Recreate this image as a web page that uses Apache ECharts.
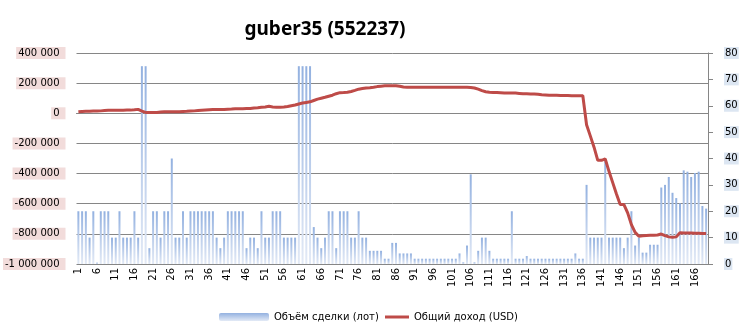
<!DOCTYPE html>
<html>
<head>
<meta charset="utf-8">
<script src="https://cdn.jsdelivr.net/npm/echarts@6/dist/echarts.min.js"></script>
<style>html,body{margin:0;padding:0;background:#fff}#c{width:746px;height:329px}</style>
</head>
<body>
<div id="c"></div>
<script>
const titleText = 'guber35 (552237)';
const seriesBarName = 'Объём сделки (лот)';
const seriesLineName = 'Общий доход (USD)';
const categories = Array.from({length: 169}, (_, i) => String(i + 1));

const volume = [
  20,20,20,10,20,0.5,20,20,20,10,
  10,20,10,10,10,20,10,75,75,6,
  20,20,10,20,20,40,10,10,20,10,
  20,20,20,20,20,20,20,10,6,10,
  20,20,20,20,20,6,10,10,6,20,
  10,10,20,20,20,10,10,10,10,75,
  75,75,75,14,10,6,10,20,20,6,
  20,20,20,10,10,20,10,10,5,5,
  5,5,2,2,8,8,4,4,4,4,
  2,2,2,2,2,2,2,2,2,2,
  2,2,4,0.6,7,34,0.6,5,10,10,
  5,2,2,2,2,2,20,2,2,2,
  3,2,2,2,2,2,2,2,2,2,
  2,2,2,4,2,2,30,10,10,10,
  10,39,10,10,10,10,6,10,20,7,
  10,4.3,4.3,7.3,7.3,7.3,29,30,33,27,
  25,23,35.5,35,33,34.5,35,22,21
];

const income = [
  10000,12000,13000,14000,15000,15000,16000,18000,20000,20000,
  20000,20000,20000,21000,21000,23000,26000,14000,6000,5000,
  5000,6000,8000,10000,10000,10000,10000,11000,12000,13000,
  15000,16000,18000,20000,22000,24000,25000,25000,25000,25000,
  27000,28000,30000,30000,30000,31000,32000,35000,37000,40000,
  42000,46000,42000,40000,40000,42000,45000,50000,55000,62000,
  68000,72000,76000,85000,94000,100000,106000,113000,120000,130000,
  137000,138000,140000,145000,152000,160000,164000,168000,170000,173000,
  177000,180000,182000,183000,183000,183000,180000,175000,172000,172000,
  172000,172000,172000,172000,172000,172000,172000,172000,172000,172000,
  172000,172000,172000,172000,172000,171000,168000,160000,150000,143000,
  139000,138000,138000,136000,134000,134000,134000,134000,132000,130000,
  129000,128000,128000,126000,123000,122000,120000,119000,119000,118000,
  118000,118000,117000,117000,117000,116000,-76000,-150000,-225000,-312000,
  -312000,-303000,-385000,-460000,-535000,-606000,-606000,-661000,-739000,-790000,
  -816000,-812000,-811000,-810000,-809000,-808000,-801000,-812000,-820000,-822000,
  -820000,-792000,-795000,-795000,-795000,-796000,-796000,-797000,-797000
];

function fmt(v) {
  const s = Math.abs(v).toString().replace(/\B(?=(\d{3})+(?!\d))/g, ' ');
  return (v < 0 ? '-' : '') + s;
}

const chart = echarts.init(document.getElementById('c'), null, {renderer: 'canvas'});
chart.setOption({
  animation: false,
  backgroundColor: '#fff',
  title: {
    text: titleText,
    left: 320,
    top: 15,
    textAlign: 'center',
    textStyle: {fontFamily: 'Noto Sans', fontWeight: 'bold', fontSize: 19, color: '#000'}
  },
  legend: [
    {
      data: [seriesBarName], left: 214, top: 307, itemWidth: 50, itemHeight: 8,
      textStyle: {fontFamily: 'DejaVu Sans', fontSize: 10, color: '#000'}
    },
    {
      data: [seriesLineName], left: 380, top: 307, itemWidth: 24, itemHeight: 3, icon: 'rect',
      textStyle: {fontFamily: 'DejaVu Sans', fontSize: 10, color: '#000'}
    }
  ],
  grid: {left: 76, right: 38, top: 53, bottom: 65, containLabel: false},
  xAxis: {
    type: 'category',
    data: categories,
    boundaryGap: true,
    axisLine: {show: true, lineStyle: {color: '#868686', width: 1}},
    axisTick: {show: false},
    axisLabel: {interval: 4, rotate: 90, fontFamily: 'DejaVu Sans', fontSize: 10, color: '#000', margin: 4}
  },
  yAxis: [
    {
      type: 'value', min: -1000000, max: 400000, interval: 200000,
      axisLine: {show: false}, axisTick: {show: false},
      splitLine: {show: true, lineStyle: {color: '#868686', width: 1}},
      axisLabel: {
        formatter: fmt, fontFamily: 'DejaVu Sans', fontSize: 10, color: '#000',
        backgroundColor: '#F2DCDB', padding: [1, 6, 1, 2], margin: 11
      }
    },
    {
      type: 'value', min: 0, max: 80, interval: 10, position: 'right',
      axisLine: {show: true, lineStyle: {color: '#868686', width: 1}},
      axisTick: {show: true, length: 5, inside: false, lineStyle: {color: '#868686'}},
      splitLine: {show: false},
      axisLabel: {
        fontFamily: 'DejaVu Sans', fontSize: 10, color: '#000',
        backgroundColor: '#DCE6F2', padding: [1, 1, 1, 1], margin: 16
      }
    }
  ],
  series: [
    {
      name: seriesBarName,
      type: 'bar',
      yAxisIndex: 1,
      data: volume,
      barWidth: 2,
      itemStyle: {
        color: new echarts.graphic.LinearGradient(0, 0, 0, 1, [
          {offset: 0, color: '#93B1E0'},
          {offset: 1, color: '#E3EAF6'}
        ])
      },
      z: 2
    },
    {
      name: seriesLineName,
      type: 'line',
      yAxisIndex: 0,
      data: income,
      symbol: 'none',
      smooth: false,
      lineStyle: {color: '#BE4B48', width: 3},
      itemStyle: {color: '#BE4B48'},
      z: 3
    }
  ]
});
</script>
</body>
</html>
